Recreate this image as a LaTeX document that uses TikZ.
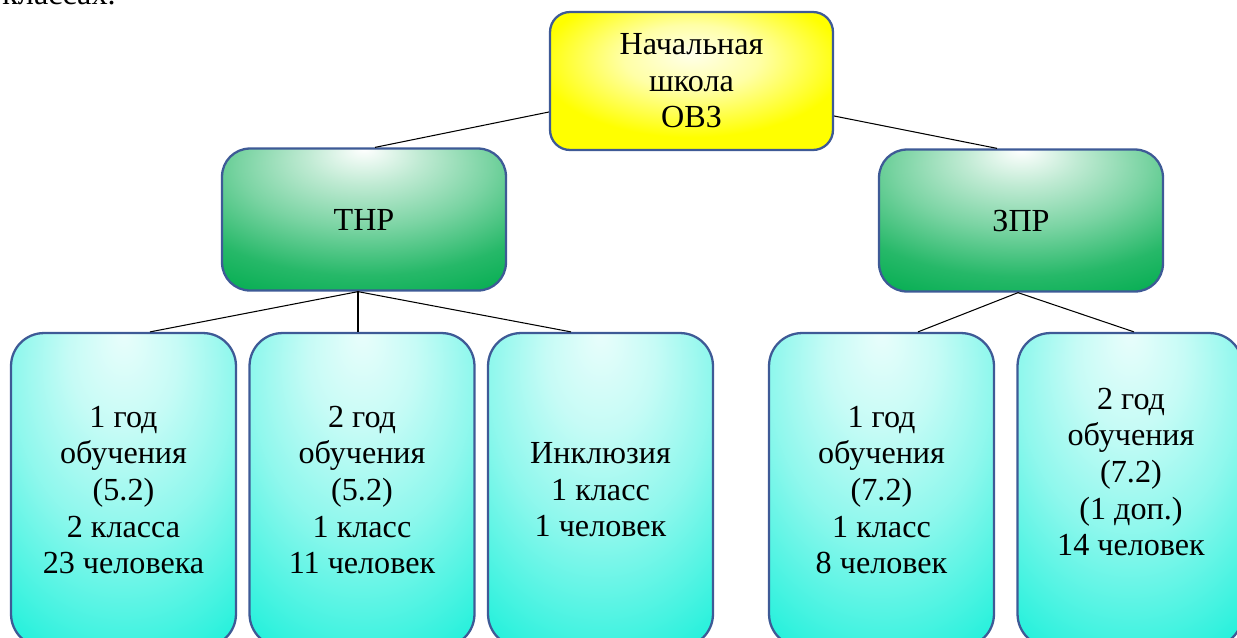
\documentclass[tikz,border=0pt]{standalone}
\usepackage{fontspec}
\setmainfont{Liberation Serif}
\usetikzlibrary{calc}
\definecolor{bordc}{RGB}{62,90,150}
\definecolor{mygreen}{RGB}{0,172,78}
\definecolor{mycyan}{RGB}{28,240,218}
\pgfdeclareradialshading{yglow}{\pgfpoint{0bp}{10bp}}{color(0bp)=(yellow!8!white); color(12bp)=(yellow!35!white); color(27bp)=(yellow); color(80bp)=(yellow)}
\pgfdeclareradialshading{gglow}{\pgfpoint{0bp}{25bp}}{color(0bp)=(white); color(10bp)=(mygreen!25!white); color(22bp)=(mygreen!52!white); color(35bp)=(mygreen!85!white); color(46bp)=(mygreen); color(90bp)=(mygreen)}
\pgfdeclareradialshading{cglow}{\pgfpoint{0bp}{25bp}}{color(0bp)=(mycyan!10!white); color(12bp)=(mycyan!25!white); color(25bp)=(mycyan!50!white); color(45bp)=(mycyan); color(90bp)=(mycyan)}
\begin{document}
\begin{tikzpicture}[x=0.02cm,y=-0.02cm,
  font=\fontsize{18.3}{20.8}\selectfont,
  box/.style={draw=bordc, line width=1.3pt, shade, align=center, inner sep=0pt},
  rootbox/.style={box, shading=yglow, rounded corners=0.4cm, minimum width=5.66cm, minimum height=2.76cm},
  midbox/.style={box, shading=gglow, rounded corners=0.56cm, minimum width=5.68cm, minimum height=2.84cm},
  leafbox/.style={box, shading=cglow, rounded corners=0.66cm, minimum width=4.5cm, minimum height=6.28cm},
  plain/.style={align=center, inner sep=0pt},
  conn/.style={draw=black, line width=0.6pt}]
\useasboundingbox (0,0) rectangle (1237,637);
\clip (0,0) rectangle (1237,637);

\node[plain, anchor=base west] (prev) at (2,4) {классах.};

\node[rootbox] (root) at (691.5,81) {Начальная\\школа\\ОВЗ};
\node[midbox] (thr) at (364,219.5) {ТНР};
\node[midbox] (zpr) at (1021,220.5) {ЗПР};

\node[leafbox] (b1) at (123.5,490) {1 год\\обучения\\(5.2)\\2 класса\\23 человека};
\node[leafbox] (b2) at (362,490) {2 год\\обучения\\(5.2)\\1 класс\\11 человек};
\node[leafbox] (b3) at (600.5,490) {Инклюзия\\1 класс\\1 человек};
\node[leafbox] (b4) at (881.5,490) {1 год\\обучения\\(7.2)\\1 класс\\8 человек};
\node[leafbox] (b5) at (1130,490) {};
\node[plain] (t5) at (1131,472) {2 год\\обучения\\(7.2)\\(1 доп.)\\14 человек};

\coordinate (rl) at ($(root.west)+(0,31)$);
\coordinate (rr) at ($(root.east)+(0,35)$);
\coordinate (tl) at ($(thr.north)+(11,0)$);
\coordinate (zt) at ($(zpr.north)+(-24,0)$);
\coordinate (ts) at ($(thr.south)+(-6,0)$);
\coordinate (zs) at ($(zpr.south)+(-3,0)$);
\coordinate (e1) at ($(b1.north)+(26.5,0)$);
\coordinate (e2) at ($(b2.north)+(-4,0)$);
\coordinate (e3) at ($(b3.north)+(-29.5,0)$);
\coordinate (e4) at ($(b4.north)+(36.5,0)$);
\coordinate (e5) at ($(b5.north)+(4,0)$);

\draw[conn] (rl) -- (tl);
\draw[conn] (rr) -- (zt);
\draw[conn] (ts) -- (e1);
\draw[conn] (ts) -- (e2);
\draw[conn] (ts) -- (e3);
\draw[conn] (zs) -- (e4);
\draw[conn] (zs) -- (e5);
\end{tikzpicture}
\end{document}
